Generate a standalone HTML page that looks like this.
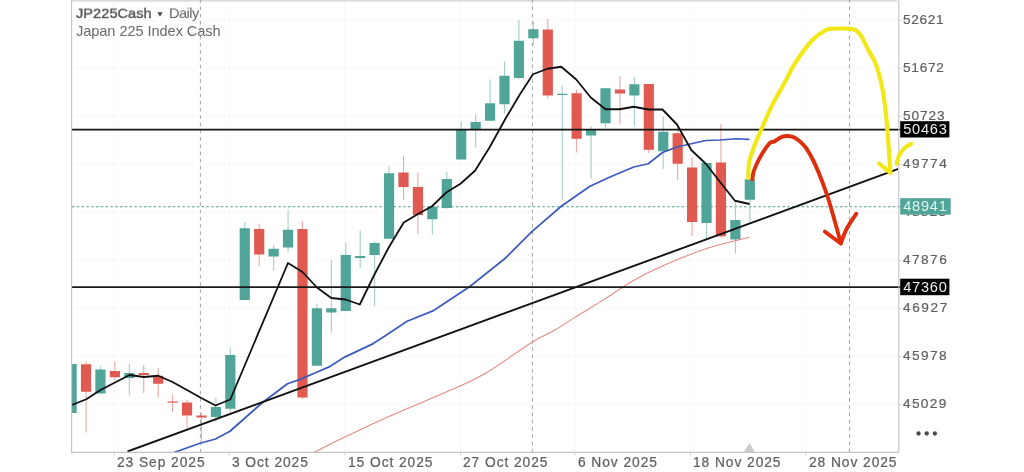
<!DOCTYPE html>
<html><head><meta charset="utf-8"><style>
html,body{margin:0;padding:0;background:#fff;}
.pl,.dl,.tag,.t1,.t2{will-change:transform;}
body{width:1024px;height:472px;position:relative;overflow:hidden;font-family:"Liberation Sans",sans-serif;}
svg{position:absolute;left:0;top:0;}
.pl{position:absolute;left:903.1px;height:18px;line-height:18px;font-size:13.65px;letter-spacing:1.05px;color:#606060;-webkit-text-stroke:0.22px #606060;white-space:nowrap;}
.dl{position:absolute;top:453.6px;height:18px;line-height:18px;font-size:13.8px;letter-spacing:0.93px;color:#606060;-webkit-text-stroke:0.22px #606060;white-space:nowrap;}
.tag{position:absolute;left:900.2px;width:49.3px;height:16.4px;line-height:16px;font-size:14.6px;letter-spacing:0.75px;color:#efefef;text-indent:3.2px;white-space:nowrap;}
.t1{position:absolute;left:76px;top:4.2px;height:18px;line-height:18px;font-size:14px;color:#5e5e5e;white-space:nowrap;}
.t1 b{font-weight:bold;}
.t2{position:absolute;left:76.4px;top:22.2px;height:18px;line-height:18px;font-size:14.6px;letter-spacing:-0.07px;color:#6a6a6a;white-space:nowrap;}
</style></head><body>
<svg width="1024" height="472" viewBox="0 0 1024 472">
<defs><clipPath id="cp"><rect x="72" y="2" width="826" height="450"/></clipPath></defs>
<rect x="71" y="0" width="825.8" height="1.6" fill="#dadada"/>
<line x1="72" x2="898" y1="20.5" y2="20.5" stroke="#f3f3f3" stroke-width="1" stroke-dasharray="2 2"/>
<line x1="72" x2="898" y1="68.5" y2="68.5" stroke="#f3f3f3" stroke-width="1" stroke-dasharray="2 2"/>
<line x1="72" x2="898" y1="116.5" y2="116.5" stroke="#f3f3f3" stroke-width="1" stroke-dasharray="2 2"/>
<line x1="72" x2="898" y1="164.5" y2="164.5" stroke="#f3f3f3" stroke-width="1" stroke-dasharray="2 2"/>
<line x1="72" x2="898" y1="212.5" y2="212.5" stroke="#f3f3f3" stroke-width="1" stroke-dasharray="2 2"/>
<line x1="72" x2="898" y1="260.5" y2="260.5" stroke="#f3f3f3" stroke-width="1" stroke-dasharray="2 2"/>
<line x1="72" x2="898" y1="308.5" y2="308.5" stroke="#f3f3f3" stroke-width="1" stroke-dasharray="2 2"/>
<line x1="72" x2="898" y1="356.5" y2="356.5" stroke="#f3f3f3" stroke-width="1" stroke-dasharray="2 2"/>
<line x1="72" x2="898" y1="404.5" y2="404.5" stroke="#f3f3f3" stroke-width="1" stroke-dasharray="2 2"/>
<line x1="114" x2="114" y1="2" y2="452" stroke="#f3f3f3" stroke-width="1" stroke-dasharray="2 2"/>
<line x1="229.3" x2="229.3" y1="2" y2="452" stroke="#f3f3f3" stroke-width="1" stroke-dasharray="2 2"/>
<line x1="345" x2="345" y1="2" y2="452" stroke="#f3f3f3" stroke-width="1" stroke-dasharray="2 2"/>
<line x1="460.4" x2="460.4" y1="2" y2="452" stroke="#f3f3f3" stroke-width="1" stroke-dasharray="2 2"/>
<line x1="575" x2="575" y1="2" y2="452" stroke="#f3f3f3" stroke-width="1" stroke-dasharray="2 2"/>
<line x1="690.3" x2="690.3" y1="2" y2="452" stroke="#f3f3f3" stroke-width="1" stroke-dasharray="2 2"/>
<line x1="806" x2="806" y1="2" y2="452" stroke="#f3f3f3" stroke-width="1" stroke-dasharray="2 2"/>

<line x1="200.4" x2="200.4" y1="-0.7" y2="452" stroke="#a4a4a4" stroke-width="1" stroke-dasharray="3.6 3.65"/>
<line x1="532.4" x2="532.4" y1="-0.7" y2="452" stroke="#a4a4a4" stroke-width="1" stroke-dasharray="3.6 3.65"/>
<line x1="849.5" x2="849.5" y1="-0.7" y2="452" stroke="#a4a4a4" stroke-width="1" stroke-dasharray="3.6 3.65"/>

<line x1="72" x2="900" y1="206.7" y2="206.7" stroke="#4c9c90" stroke-width="1.05" stroke-dasharray="2.5 2.3"/>
<g clip-path="url(#cp)">
<rect x="66.50" y="364" width="10.2" height="49" fill="#50a598"/>
<rect x="85.48" y="361.25" width="1.1" height="71.25" fill="#eaa9a3"/>
<rect x="80.93" y="364.25" width="10.2" height="27.5" fill="#e15a51"/>
<rect x="99.91" y="366.25" width="1.1" height="27.25" fill="#a3cfc8"/>
<rect x="95.36" y="369.5" width="10.2" height="24.0" fill="#50a598"/>
<rect x="114.34" y="361.25" width="1.1" height="18.75" fill="#eaa9a3"/>
<rect x="109.79" y="371" width="10.2" height="6.25" fill="#e15a51"/>
<rect x="128.77" y="363.75" width="1.1" height="31.75" fill="#a3cfc8"/>
<rect x="124.22" y="373" width="10.2" height="5" fill="#50a598"/>
<rect x="143.20" y="365" width="1.1" height="28" fill="#eaa9a3"/>
<rect x="138.65" y="373" width="10.2" height="2" fill="#e15a51"/>
<rect x="157.63" y="368" width="1.1" height="29.5" fill="#eaa9a3"/>
<rect x="153.08" y="375.75" width="10.2" height="8.0" fill="#e15a51"/>
<rect x="172.06" y="394.5" width="1.1" height="17.5" fill="#eaa9a3"/>
<rect x="167.51" y="401.5" width="10.2" height="1.2" fill="#e15a51"/>
<rect x="186.49" y="400" width="1.1" height="28.75" fill="#eaa9a3"/>
<rect x="181.94" y="402.5" width="10.2" height="13.0" fill="#e15a51"/>
<rect x="200.92" y="412.5" width="1.1" height="30.0" fill="#eaa9a3"/>
<rect x="196.37" y="415.5" width="10.2" height="2.0" fill="#e15a51"/>
<rect x="215.35" y="397.5" width="1.1" height="25.0" fill="#a3cfc8"/>
<rect x="210.80" y="407" width="10.2" height="10" fill="#50a598"/>
<rect x="229.78" y="347.5" width="1.1" height="65.0" fill="#a3cfc8"/>
<rect x="225.23" y="355" width="10.2" height="53.75" fill="#50a598"/>
<rect x="244.21" y="222" width="1.1" height="78" fill="#a3cfc8"/>
<rect x="239.66" y="228.25" width="10.2" height="71.75" fill="#50a598"/>
<rect x="258.64" y="223.75" width="1.1" height="42.5" fill="#eaa9a3"/>
<rect x="254.09" y="229" width="10.2" height="25.5" fill="#e15a51"/>
<rect x="273.07" y="245" width="1.1" height="25.5" fill="#a3cfc8"/>
<rect x="268.52" y="248.75" width="10.2" height="7.75" fill="#50a598"/>
<rect x="287.50" y="209.5" width="1.1" height="43.0" fill="#a3cfc8"/>
<rect x="282.95" y="229.75" width="10.2" height="17.75" fill="#50a598"/>
<rect x="301.93" y="221.25" width="1.1" height="177.75" fill="#eaa9a3"/>
<rect x="297.38" y="229" width="10.2" height="168.5" fill="#e15a51"/>
<rect x="316.36" y="303.75" width="1.1" height="62.0" fill="#a3cfc8"/>
<rect x="311.81" y="308.25" width="10.2" height="57.5" fill="#50a598"/>
<rect x="330.79" y="260" width="1.1" height="72.5" fill="#a3cfc8"/>
<rect x="326.24" y="308.25" width="10.2" height="4.25" fill="#50a598"/>
<rect x="345.22" y="242.5" width="1.1" height="68.5" fill="#a3cfc8"/>
<rect x="340.67" y="255" width="10.2" height="56" fill="#50a598"/>
<rect x="359.65" y="230.5" width="1.1" height="37.5" fill="#a3cfc8"/>
<rect x="355.10" y="256" width="10.2" height="2" fill="#50a598"/>
<rect x="374.08" y="241.25" width="1.1" height="65.0" fill="#a3cfc8"/>
<rect x="369.53" y="243" width="10.2" height="12" fill="#50a598"/>
<rect x="388.51" y="165.75" width="1.1" height="73.0" fill="#a3cfc8"/>
<rect x="383.96" y="173.25" width="10.2" height="65.5" fill="#50a598"/>
<rect x="402.94" y="155.5" width="1.1" height="44.5" fill="#eaa9a3"/>
<rect x="398.39" y="172.5" width="10.2" height="14.5" fill="#e15a51"/>
<rect x="417.37" y="172.5" width="1.1" height="61.25" fill="#eaa9a3"/>
<rect x="412.82" y="187" width="10.2" height="28" fill="#e15a51"/>
<rect x="431.80" y="206.75" width="1.1" height="27.75" fill="#a3cfc8"/>
<rect x="427.25" y="206.75" width="10.2" height="12.5" fill="#50a598"/>
<rect x="446.23" y="171.75" width="1.1" height="37.0" fill="#a3cfc8"/>
<rect x="441.68" y="179" width="10.2" height="29" fill="#50a598"/>
<rect x="460.66" y="121.25" width="1.1" height="38.25" fill="#a3cfc8"/>
<rect x="456.11" y="129.5" width="10.2" height="30.0" fill="#50a598"/>
<rect x="475.09" y="114" width="1.1" height="33.5" fill="#a3cfc8"/>
<rect x="470.54" y="122" width="10.2" height="7.5" fill="#50a598"/>
<rect x="489.52" y="79.5" width="1.1" height="41.25" fill="#a3cfc8"/>
<rect x="484.97" y="103.25" width="10.2" height="17.5" fill="#50a598"/>
<rect x="503.95" y="61.25" width="1.1" height="52.5" fill="#a3cfc8"/>
<rect x="499.40" y="75.75" width="10.2" height="28.5" fill="#50a598"/>
<rect x="518.38" y="20" width="1.1" height="59.5" fill="#a3cfc8"/>
<rect x="513.83" y="40.75" width="10.2" height="37.25" fill="#50a598"/>
<rect x="532.81" y="21.25" width="1.1" height="23.75" fill="#a3cfc8"/>
<rect x="528.26" y="29.25" width="10.2" height="9.0" fill="#50a598"/>
<rect x="547.24" y="18.75" width="1.1" height="80.0" fill="#eaa9a3"/>
<rect x="542.69" y="29.5" width="10.2" height="66.0" fill="#e15a51"/>
<rect x="561.67" y="85.5" width="1.1" height="114.5" fill="#a3cfc8"/>
<rect x="557.12" y="93.75" width="10.2" height="1.25" fill="#50a598"/>
<rect x="576.10" y="89.5" width="1.1" height="63.0" fill="#eaa9a3"/>
<rect x="571.55" y="93.25" width="10.2" height="45.5" fill="#e15a51"/>
<rect x="590.53" y="126" width="1.1" height="52.75" fill="#a3cfc8"/>
<rect x="585.98" y="130" width="10.2" height="5.5" fill="#50a598"/>
<rect x="604.96" y="88.25" width="1.1" height="39.25" fill="#a3cfc8"/>
<rect x="600.41" y="88.25" width="10.2" height="35.0" fill="#50a598"/>
<rect x="619.39" y="76.25" width="1.1" height="48.25" fill="#eaa9a3"/>
<rect x="614.84" y="89.5" width="10.2" height="4.0" fill="#e15a51"/>
<rect x="633.82" y="77" width="1.1" height="49.25" fill="#a3cfc8"/>
<rect x="629.27" y="84.25" width="10.2" height="11.25" fill="#50a598"/>
<rect x="648.25" y="84" width="1.1" height="69" fill="#eaa9a3"/>
<rect x="643.70" y="84" width="10.2" height="65.75" fill="#e15a51"/>
<rect x="662.68" y="116.25" width="1.1" height="52.75" fill="#a3cfc8"/>
<rect x="658.13" y="131.75" width="10.2" height="19.5" fill="#50a598"/>
<rect x="677.11" y="125" width="1.1" height="55" fill="#eaa9a3"/>
<rect x="672.56" y="133.25" width="10.2" height="30.5" fill="#e15a51"/>
<rect x="691.54" y="157" width="1.1" height="79.25" fill="#eaa9a3"/>
<rect x="686.99" y="167.5" width="10.2" height="54.5" fill="#e15a51"/>
<rect x="705.97" y="163" width="1.1" height="75.75" fill="#a3cfc8"/>
<rect x="701.42" y="163" width="10.2" height="60" fill="#50a598"/>
<rect x="720.40" y="123.75" width="1.1" height="113.75" fill="#eaa9a3"/>
<rect x="715.85" y="162.5" width="10.2" height="73.75" fill="#e15a51"/>
<rect x="734.83" y="201.25" width="1.1" height="52.5" fill="#a3cfc8"/>
<rect x="730.28" y="220" width="10.2" height="19.5" fill="#50a598"/>
<rect x="749.26" y="175" width="1.1" height="48" fill="#a3cfc8"/>
<rect x="744.71" y="179.25" width="10.2" height="20.5" fill="#50a598"/>
<path d="M312,453.5 C312.48,453.25 309.45,454.73 314.9,452 C320.35,449.27 332.27,443.07 344.7,437.1 C357.13,431.13 370.28,424.70 389.5,416.2 C408.72,407.70 443.28,393.68 460,386.1 C476.72,378.52 477.82,378.02 489.8,370.7 C501.78,363.38 521.05,348.98 531.9,342.2 C542.75,335.42 547.67,334.18 554.9,330 C562.13,325.82 567.00,322.25 575.3,317.1 C583.60,311.95 595.15,305.12 604.7,299.1 C614.25,293.08 622.88,286.55 632.6,281 C642.32,275.45 650.55,271.25 663,265.8 C675.45,260.35 692.92,253.05 707.3,248.3 C721.68,243.55 742.30,239.13 749.3,237.3" fill="none" stroke="#e28b82" stroke-width="1.1" stroke-linejoin="round"/>
<polyline points="173.75,452.5 200,443.25 215.5,439 230,431.25 262.5,402.5 287.5,383.75 300,379.4 316,372.5 329.8,366.6 344.7,357.1 373.2,343.6 382.7,337.5 407.1,321.2 432.9,310.9 469.5,286.7 504.7,258.8 531.9,231.7 561.25,206.25 590,186.25 610,177 633.75,167 648.25,163.75 662.5,152.5 677,147 691.25,143.75 705.75,140.5 720,140 736.25,138.75 749.5,139.3" fill="none" stroke="#3d5bbf" stroke-width="1.75" stroke-linejoin="round"/>


<line x1="127.5" y1="451.5" x2="898.3" y2="169" stroke="#111" stroke-width="1.9"/>
<polyline points="72,405 86.25,399.25 100.5,390 115,382.5 129.5,375 143.75,377 158.2,375.75 172.5,382 187,390 201.25,398 215.5,405.5 230.3,399.5 288,263 302.5,272 317,287.5 331.25,298 345.6,299.5 359.8,304.5 374.2,275 389,247 403.75,222.5 418,214 432,206.25 446.25,192.5 460.5,183.75 475,170.75 489.5,147.5 505,119.5 519.5,95 533,74.25 547.5,68.75 561.25,66.75 576.25,79.5 590.75,97.5 605.5,109.25 619.5,109.25 633.75,106.75 648.25,109.5 662.5,109.5 677,124.5 691.25,150 706.25,164.25 720.5,182.5 735,200.75 749.5,204" fill="none" stroke="#111" stroke-width="1.8" stroke-linejoin="round"/>
</g>
<line x1="72" x2="900.5" y1="129.6" y2="129.6" stroke="#151515" stroke-width="1.6"/><line x1="72" x2="900.5" y1="287" y2="287" stroke="#1a1a1a" stroke-width="1.75"/>
<line x1="71.6" x2="71.6" y1="0" y2="452.9" stroke="#c4c4c4" stroke-width="1.1"/>
<line x1="898.8" x2="898.8" y1="0" y2="452.9" stroke="#c4c4c4" stroke-width="1.1"/>
<line x1="71" x2="899" y1="452.4" y2="452.4" stroke="#c4c4c4" stroke-width="1.1"/>
<line x1="114" x2="114" y1="452" y2="455.5" stroke="#cfcfcf" stroke-width="1"/>
<line x1="229.3" x2="229.3" y1="452" y2="455.5" stroke="#cfcfcf" stroke-width="1"/>
<line x1="345" x2="345" y1="452" y2="455.5" stroke="#cfcfcf" stroke-width="1"/>
<line x1="460.4" x2="460.4" y1="452" y2="455.5" stroke="#cfcfcf" stroke-width="1"/>
<line x1="575" x2="575" y1="452" y2="455.5" stroke="#cfcfcf" stroke-width="1"/>
<line x1="690.3" x2="690.3" y1="452" y2="455.5" stroke="#cfcfcf" stroke-width="1"/>
<line x1="806" x2="806" y1="452" y2="455.5" stroke="#cfcfcf" stroke-width="1"/>
<line x1="898.8" x2="902" y1="20.5" y2="20.5" stroke="#d4d4d4" stroke-width="1"/>
<line x1="898.8" x2="902" y1="68.5" y2="68.5" stroke="#d4d4d4" stroke-width="1"/>
<line x1="898.8" x2="902" y1="116.5" y2="116.5" stroke="#d4d4d4" stroke-width="1"/>
<line x1="898.8" x2="902" y1="164.5" y2="164.5" stroke="#d4d4d4" stroke-width="1"/>
<line x1="898.8" x2="902" y1="212.5" y2="212.5" stroke="#d4d4d4" stroke-width="1"/>
<line x1="898.8" x2="902" y1="260.5" y2="260.5" stroke="#d4d4d4" stroke-width="1"/>
<line x1="898.8" x2="902" y1="308.5" y2="308.5" stroke="#d4d4d4" stroke-width="1"/>
<line x1="898.8" x2="902" y1="356.5" y2="356.5" stroke="#d4d4d4" stroke-width="1"/>
<line x1="898.8" x2="902" y1="404.5" y2="404.5" stroke="#d4d4d4" stroke-width="1"/>

<polygon points="743.7,452.2 755.1,452.2 749.4,442.7" fill="#cbcbcb"/>
<g fill="none" stroke-linecap="round" stroke-linejoin="round">
<path d="M752.4,179.2 C752.63,177.83 752.65,174.43 753.8,171 C754.95,167.57 757.23,162.52 759.3,158.6 C761.37,154.68 764.37,150.17 766.2,147.5 C768.03,144.83 768.93,143.60 770.3,142.6 C771.67,141.60 772.57,142.42 774.4,141.5 C776.23,140.58 779.00,138.02 781.3,137.1 C783.60,136.18 785.90,135.87 788.2,136 C790.50,136.13 792.35,136.20 795.1,137.9 C797.85,139.60 801.72,142.52 804.7,146.2 C807.68,149.88 810.23,154.50 813,160 C815.77,165.50 818.77,172.78 821.3,179.2 C823.83,185.62 825.92,191.37 828.2,198.5 C830.48,205.63 832.90,214.58 835,222 C837.10,229.42 839.83,239.50 840.8,243" stroke="#e02e0c" stroke-width="3.9"/>
<path d="M824.8,231.6 C827.47,233.57 838.13,241.43 840.8,243.4" stroke="#e02e0c" stroke-width="3.9"/>
<path d="M840.8,243.4 C841.67,241.20 844.20,234.00 846,230.2 C847.80,226.40 849.88,223.35 851.6,220.6 C853.32,217.85 855.52,214.85 856.3,213.7" stroke="#e02e0c" stroke-width="3.9"/>
<path d="M748.3,178 C748.42,175.45 748.30,167.20 749,162.7 C749.70,158.20 751.22,154.82 752.5,151 C753.78,147.18 755.45,142.88 756.7,139.8 C757.95,136.72 757.45,138.23 760,132.5 C762.55,126.77 767.83,113.82 772,105.4 C776.17,96.98 781.18,89.00 785,82 C788.82,75.00 790.40,70.32 794.9,63.4 C799.40,56.48 806.92,46.03 812,40.5 C817.08,34.97 821.90,32.15 825.4,30.2 C828.90,28.25 828.87,29.02 833,28.8 C837.13,28.58 846.28,28.58 850.2,28.9 C854.12,29.22 854.60,29.43 856.5,30.7 C858.40,31.97 859.70,33.42 861.6,36.5 C863.50,39.58 865.78,45.18 867.9,49.2 C870.02,53.22 872.60,57.00 874.3,60.6 C876.00,64.20 876.83,66.57 878.1,70.8 C879.37,75.03 880.85,80.92 881.9,86 C882.95,91.08 883.68,96.22 884.4,101.3 C885.12,106.38 885.68,111.43 886.2,116.5 C886.72,121.57 887.10,126.78 887.5,131.7 C887.90,136.62 888.12,139.12 888.6,146 C889.08,152.88 890.10,168.50 890.4,173" stroke="#f2e814" stroke-width="4.1"/>
<path d="M879,163.5 C880.90,165.05 888.50,171.25 890.4,172.8" stroke="#f2e814" stroke-width="4.1"/>
<path d="M896.6,163.6 C897.00,162.25 897.93,157.82 899,155.5 C900.07,153.18 901.67,151.28 903,149.7 C904.33,148.12 905.63,147.00 907,146 C908.37,145.00 910.50,144.08 911.2,143.7" stroke="#f2e814" stroke-width="4.1"/>
</g>
<polygon points="157.3,12.2 162.7,12.2 160,16.7" fill="#4a4a4a"/>
<circle cx="918.5" cy="433.5" r="2.15" fill="#4a4a4a"/><circle cx="926.7" cy="433.5" r="2.15" fill="#4a4a4a"/><circle cx="934.9" cy="433.5" r="2.15" fill="#4a4a4a"/>
</svg>
<div class="t1" style="left:76.4px;font-size:14.6px;transform-origin:0 14px;transform:scaleY(0.93);letter-spacing:0.03px;-webkit-text-stroke:0.45px #585858;color:#585858">JP225Cash</div>
<div class="t1" style="left:169px;font-size:14.6px;transform-origin:0 14px;transform:scaleY(0.95);letter-spacing:-0.55px;color:#666">Daily</div>
<div class="t2">Japan 225 Index Cash</div>
<div class="pl" style="top:11px;letter-spacing:0.68px">52621</div><div class="pl" style="top:59px;letter-spacing:0.75px">51672</div><div class="pl" style="top:107px;letter-spacing:0.9px">50723</div><div class="pl" style="top:155px;letter-spacing:1.45px">49774</div><div class="pl" style="top:203px;letter-spacing:1.3px">48825</div><div class="pl" style="top:251px;letter-spacing:1.45px">47876</div><div class="pl" style="top:299px;letter-spacing:1.6px">46927</div><div class="pl" style="top:347px;letter-spacing:1.42px">45978</div><div class="pl" style="top:395px;letter-spacing:1.32px">45029</div>
<svg width="1024" height="472" viewBox="0 0 1024 472"><rect x="900.2" y="121.2" width="49.2" height="16.3" fill="#000"/><rect x="900.2" y="278.7" width="49.2" height="16.5" fill="#000"/><rect x="900.2" y="198.2" width="50.5" height="16.4" fill="#4fa598"/></svg>
<div class="tag" style="top:121.3px;">50463</div>
<div class="tag" style="top:198.4px;width:50.5px;color:#dff7f1;">48941</div>
<div class="tag" style="top:278.9px;">47360</div>
<div class="dl" style="left:117px">23 Sep 2025</div><div class="dl" style="left:232.3px">3 Oct 2025</div><div class="dl" style="left:348px">15 Oct 2025</div><div class="dl" style="left:463.4px">27 Oct 2025</div><div class="dl" style="left:578px">6 Nov 2025</div><div class="dl" style="left:693.3px">18 Nov 2025</div><div class="dl" style="left:809px">28 Nov 2025</div>
</body></html>
